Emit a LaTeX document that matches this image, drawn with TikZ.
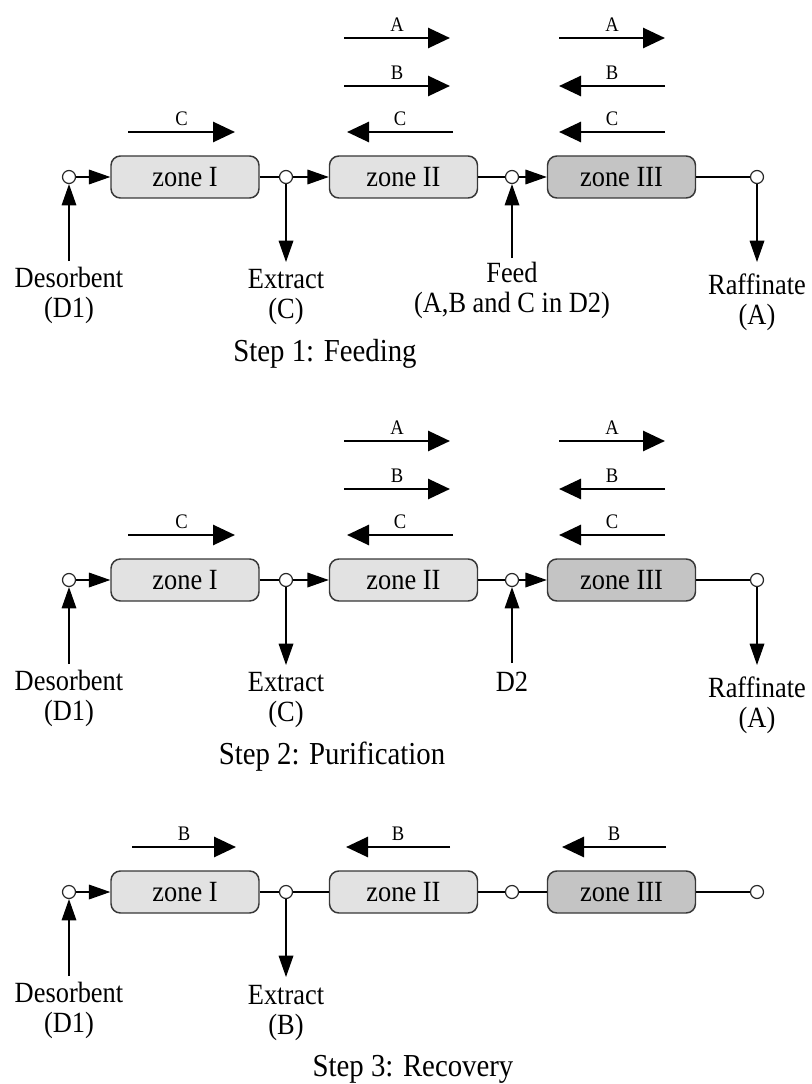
\documentclass[tikz,border=0pt]{standalone}
\usepackage{fontspec}
\setmainfont{Liberation Serif}[FakeStretch=0.9]
\usetikzlibrary{arrows.meta}

\begin{document}
\begin{tikzpicture}[x=0.75pt,y=0.75pt,yscale=-1,
  zone/.style={draw={rgb, 255:red, 55; green, 55; blue, 55 },line width=1.1pt,rounded corners=7pt,
    fill={rgb, 255:red, 226; green, 226; blue, 226 },minimum width=111pt,minimum height=31.5pt,
    inner sep=0pt,font=\fontsize{22}{24}\selectfont},
  zonedark/.style={zone,fill={rgb, 255:red, 196; green, 196; blue, 196 }},
  port/.style={circle,draw={rgb, 255:red, 40; green, 40; blue, 40 },line width=0.9pt,fill=white,
    inner sep=0pt,minimum size=9.75pt},
  flow/.style={line width=2.1pt,-{Triangle[length=16.5pt,width=15pt]}},
  link/.style={line width=0.9pt,-{Triangle[length=16pt,width=11pt]}},
  plain/.style={line width=0.9pt},
  lbl/.style={font=\fontsize{15.5}{17}\selectfont,inner sep=1.5pt,above=2pt},
  txt/.style={anchor=north,align=center,inner sep=0.75pt,font=\fontsize{22}{22.5}\selectfont},
  steptitle/.style={anchor=base,inner sep=0pt,font=\fontsize{24}{26}\selectfont}]
\useasboundingbox (0,0) rectangle (812,1084);

%Step 1: Feeding
\node[port] (p11) at (69,177) {};
\node[zone] (z11) at (185,177) {zone I};
\node[port] (p12) at (286,177) {};
\node[zone] (z12) at (403.5,177) {zone II};
\node[port] (p13) at (512,177) {};
\node[zonedark] (z13) at (621.5,177) {zone III};
\node[port] (p14) at (757,177) {};
\draw[link] (p11) -- (z11);
\draw[plain] (z11) -- (p12);
\draw[link] (p12) -- (z12);
\draw[plain] (z12) -- (p13);
\draw[link] (p13) -- (z13);
\draw[plain] (z13) -- (p14);
% flows
\draw[flow] (128,132) -- (235,132) node[lbl,midway] (c11) {C};
\draw[flow] (344,38) -- (450,38) node[lbl,midway] (a12) {A};
\draw[flow] (344,86) -- (450,86) node[lbl,midway] (b12) {B};
\draw[flow] (453,132) -- (347,132) node[lbl,midway] (c12) {C};
\draw[flow] (559,38) -- (665,38) node[lbl,midway] (a13) {A};
\draw[flow] (665,86) -- (559,86) node[lbl,midway] (b13) {B};
\draw[flow] (665,132) -- (559,132) node[lbl,midway] (c13) {C};
% streams
\coordinate (d1) at (69,261);
\coordinate (e1) at (286,262);
\coordinate (f1) at (512,258);
\coordinate (r1) at (757,262);
\draw[link] (d1) -- (p11);
\draw[link] (p12) -- (e1);
\draw[link] (f1) -- (p13);
\draw[link] (p14) -- (r1);
\node[txt] (td1) at (69,266) {Desorbent\\(D1)};
\node[txt] (te1) at (286,268) {Extract\\(C)};
\node[txt] (tf1) at (512,261) {Feed\\(A,B and C in D2)};
\node[txt] (tr1) at (757,273) {Raffinate\\(A)};
\node[steptitle] (s1) at (325,361) {Step 1: Feeding};

%Step 2: Purification
\node[port] (p21) at (69,580) {};
\node[zone] (z21) at (185,580) {zone I};
\node[port] (p22) at (286,580) {};
\node[zone] (z22) at (403.5,580) {zone II};
\node[port] (p23) at (512,580) {};
\node[zonedark] (z23) at (621.5,580) {zone III};
\node[port] (p24) at (757,580) {};
\draw[link] (p21) -- (z21);
\draw[plain] (z21) -- (p22);
\draw[link] (p22) -- (z22);
\draw[plain] (z22) -- (p23);
\draw[link] (p23) -- (z23);
\draw[plain] (z23) -- (p24);
% flows
\draw[flow] (128,535) -- (235,535) node[lbl,midway] (c21) {C};
\draw[flow] (344,441) -- (450,441) node[lbl,midway] (a22) {A};
\draw[flow] (344,489) -- (450,489) node[lbl,midway] (b22) {B};
\draw[flow] (453,535) -- (347,535) node[lbl,midway] (c22) {C};
\draw[flow] (559,441) -- (665,441) node[lbl,midway] (a23) {A};
\draw[flow] (665,489) -- (559,489) node[lbl,midway] (b23) {B};
\draw[flow] (665,535) -- (559,535) node[lbl,midway] (c23) {C};
% streams
\coordinate (d2) at (69,664);
\coordinate (e2) at (286,665);
\coordinate (f2) at (512,663);
\coordinate (r2) at (757,665);
\draw[link] (d2) -- (p21);
\draw[link] (p22) -- (e2);
\draw[link] (f2) -- (p23);
\draw[link] (p24) -- (r2);
\node[txt] (td2) at (69,669) {Desorbent\\(D1)};
\node[txt] (te2) at (286,671) {Extract\\(C)};
\node[txt] (tf2) at (512,671) {D2};
\node[txt] (tr2) at (757,676) {Raffinate\\(A)};
\node[steptitle] (s2) at (332,764) {Step 2: Purification};

%Step 3: Recovery
\node[port] (p31) at (69,892) {};
\node[zone] (z31) at (185,892) {zone I};
\node[port] (p32) at (286,892) {};
\node[zone] (z32) at (403.5,892) {zone II};
\node[port] (p33) at (512,892) {};
\node[zonedark] (z33) at (621.5,892) {zone III};
\node[port] (p34) at (757,892) {};
\draw[link] (p31) -- (z31);
\draw[plain] (z31) -- (p32) -- (z32) -- (p33) -- (z33) -- (p34);
% flows
\draw[flow] (132,847) -- (236,847) node[lbl,midway] (b31) {B};
\draw[flow] (450,847) -- (346,847) node[lbl,midway] (b32) {B};
\draw[flow] (666,847) -- (562,847) node[lbl,midway] (b33) {B};
% streams
\coordinate (d3) at (69,976);
\coordinate (e3) at (286,977);
\draw[link] (d3) -- (p31);
\draw[link] (p32) -- (e3);
\node[txt] (td3) at (69,981) {Desorbent\\(D1)};
\node[txt] (te3) at (286,984) {Extract\\(B)};
\node[steptitle] (s3) at (413,1076) {Step 3: Recovery};

\end{tikzpicture}
\end{document}
